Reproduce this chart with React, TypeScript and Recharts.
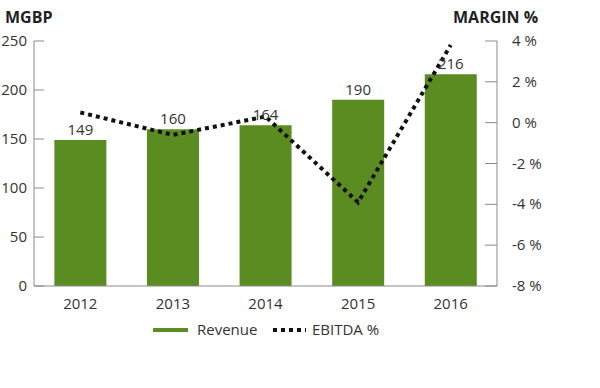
import React from 'react';
import { ComposedChart, Bar, Line, XAxis, YAxis, Legend, LabelList } from 'recharts';

const years = ['2012', '2013', '2014', '2015', '2016'];
const revenue = [149, 160, 164, 190, 216];
const ebitdaPct = [0.5, -0.6, 0.3, -3.9, 3.8];
const leftTicks = [0, 50, 100, 150, 200, 250];
const rightTicks = [-8, -6, -4, -2, 0, 2, 4];

const data = years.map((year, i) => ({ year, revenue: revenue[i], ebitda: ebitdaPct[i] }));

const FONT = '"Open Sans", sans-serif';
const GREEN = '#5b8c22';
const AXIS = '#8a8a8a';
const TEXT = '#333';

const LeftTick = (props: any) => {
  const { x, y, payload } = props;
  return (
    <g>
      <line x1={x + 7} x2={x + 17} y1={y} y2={y} stroke={AXIS} strokeWidth={1} />
      <text x={x} y={y} dy={5} textAnchor="end" fontSize={15} fill={TEXT} fontFamily={FONT}>
        {payload.value}
      </text>
    </g>
  );
};

const RightTick = (props: any) => {
  const { x, y, payload } = props;
  return (
    <g>
      <line x1={x - 15} x2={x - 27} y1={y} y2={y} stroke={AXIS} strokeWidth={1} />
      <text x={x} y={y} dy={5} textAnchor="start" fontSize={15} fill={TEXT} fontFamily={FONT}>
        {`${payload.value} %`}
      </text>
    </g>
  );
};

const LegendContent = () => (
  <svg width={600} height={24}>
    <line x1={153} x2={188} y1={12} y2={12} stroke={GREEN} strokeWidth={4} />
    <text x={197} y={17} fontSize={15} fill={TEXT} fontFamily={FONT}>Revenue</text>
    <line x1={273} x2={306} y1={12} y2={12} stroke="#111" strokeWidth={4} strokeDasharray="4 4" />
    <text x={312} y={17} fontSize={15} fill={TEXT} fontFamily={FONT}>EBITDA %</text>
  </svg>
);

export default function App() {
  return (
    <div style={{ position: 'absolute', left: 0, top: 0, width: 600, height: 388, background: '#fff' }}>
      <svg width={600} height={30} style={{ position: 'absolute', left: 0, top: 0 }}>
        <text x={5} y={23} fontSize={16} fontWeight="bold" fill="#222" fontFamily={FONT}>MGBP</text>
        <text x={453} y={23} fontSize={16} fontWeight="bold" fill="#222" fontFamily={FONT}>MARGIN %</text>
      </svg>
      <ComposedChart
        width={600}
        height={388}
        data={data}
        margin={{ top: 41, right: 0, left: 0, bottom: 43 }}
        barCategoryGap="22%"
        style={{ position: 'absolute', left: 0, top: 0 }}
      >
        <XAxis
          dataKey="year"
          axisLine={{ stroke: AXIS }}
          tickLine={false}
          tick={{ fontSize: 15, fill: TEXT, fontFamily: FONT }}
          tickMargin={6}
          height={31}
        />
        <YAxis
          yAxisId="left"
          domain={[0, 250]}
          ticks={leftTicks}
          width={34}
          axisLine={{ stroke: AXIS }}
          tickLine={false}
          tickSize={0}
          tickMargin={7}
          tick={<LeftTick />}
          interval={0}
        />
        <YAxis
          yAxisId="right"
          orientation="right"
          domain={[-8, 4]}
          ticks={rightTicks}
          width={103}
          axisLine={{ stroke: AXIS }}
          tickLine={false}
          tickSize={0}
          tickMargin={15}
          tick={<RightTick />}
          interval={0}
        />
        <Bar yAxisId="left" dataKey="revenue" name="Revenue" fill={GREEN} isAnimationActive={false}>
          <LabelList dataKey="revenue" position="top" offset={5} fontSize={15} fill={TEXT} fontFamily={FONT} />
        </Bar>
        <Line
          yAxisId="right"
          dataKey="ebitda"
          name="EBITDA %"
          stroke="#111"
          strokeWidth={4}
          strokeDasharray="4 4"
          dot={false}
          activeDot={false}
          type="linear"
          isAnimationActive={false}
        />
        <Legend verticalAlign="bottom" wrapperStyle={{ left: 0, top: 318, width: 600 }} content={<LegendContent />} />
      </ComposedChart>
    </div>
  );
}
